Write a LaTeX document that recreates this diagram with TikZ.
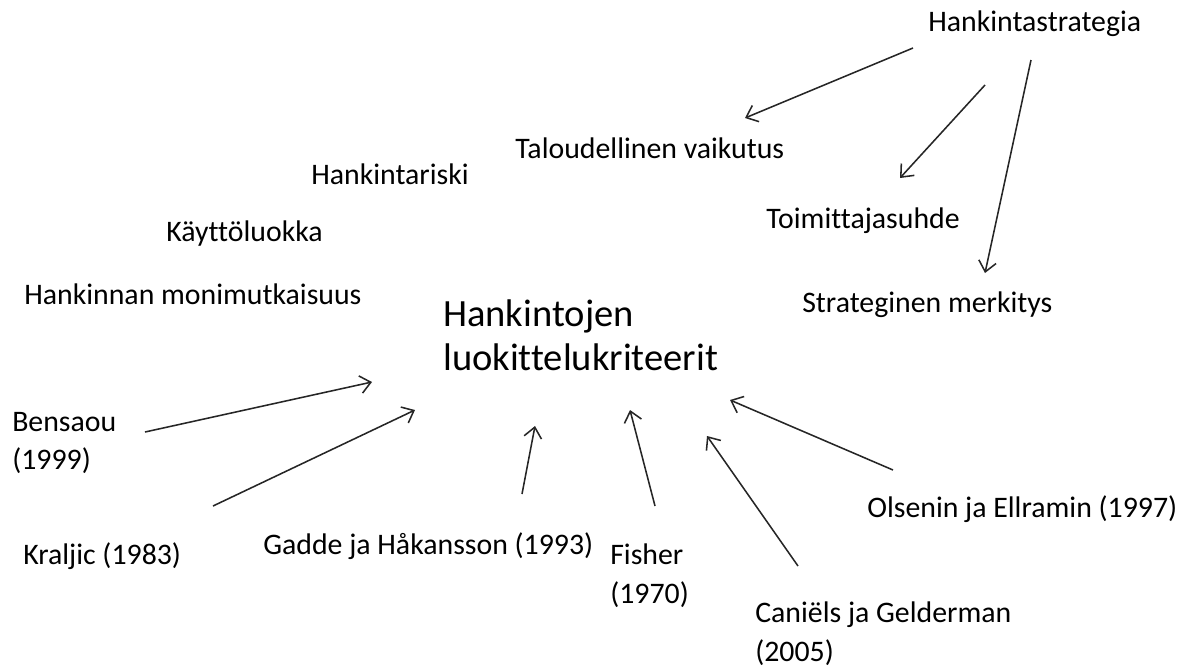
\documentclass[tikz,border=0pt]{standalone}
\usepackage{fontspec}
\setmainfont[Ligatures=NoCommon]{Carlito}
\usetikzlibrary{positioning, arrows.meta}
\definecolor{hkink}{gray}{0.15}
\tikzset{
  hklbl/.style   = {inner sep=0pt, anchor=west, align=left, text=black,
                    font=\fontsize{21.2}{27.7}\selectfont},
  hktitle/.style = {hklbl, font=\fontsize{27.4}{31.3}\selectfont},
  hkarrow/.style = {draw=hkink, line width=1.1pt,
                    -{Straight Barb[length=2.6mm,width=4.4mm]}}
}

\begin{document}
\begin{tikzpicture}[x=0.025cm, y=-0.025cm]
  \useasboundingbox (0,0) rectangle (1196,667);

  % criteria
  \node[hktitle] (crit) at (443,335) {Hankintojen\\luokittelukriteerit};
  \node[hklbl] (strat) at (928,24)  {Hankintastrategia};
  \node[hklbl] (talo)  at (515,148) {Taloudellinen vaikutus};
  \node[hklbl] (riski) at (311,174) {Hankintariski};
  \node[hklbl] (kaytto) at (166,234) {Käyttöluokka};
  \node[hklbl] (moni)  at (24,294)  {Hankinnan monimutkaisuus};
  \node[hklbl] (toim)  at (766,221) {Toimittajasuhde};
  \node[hklbl] (merk)  at (802,305) {Strateginen merkitys};

  % sources
  \node[hklbl] (bens)  at (12,443)  {Bensaou\\(1999)};
  \node[hklbl] (kral)  at (23,556)  {Kraljic (1983)};
  \node[hklbl] (gadde) at (263,546) {Gadde ja Håkansson (1993)};
  \node[hklbl] (fish)  at (610,576) {Fisher\\(1970)};
  \node[hklbl] (olsen) at (867,509) {Olsenin ja Ellramin (1997)};
  \node[hklbl] (cani)  at (755,634) {Caniëls ja Gelderman\\(2005)};

  % arrow ends
  \coordinate (s1) at (913,48);   \coordinate (e1) at (745,118);
  \coordinate (s2) at (985,85);   \coordinate (e2) at (900,178);
  \coordinate (s3) at (1031,60);  \coordinate (e3) at (985,273);
  \coordinate (b1) at (145,432);  \coordinate (c1) at (372,382);
  \coordinate (b2) at (213,506);  \coordinate (c2) at (415,410);
  \coordinate (b3) at (522,494);  \coordinate (c3) at (535,426);
  \coordinate (b4) at (655,506);  \coordinate (c4) at (630,410);
  \coordinate (b5) at (798,566);  \coordinate (c5) at (707,436);
  \coordinate (b6) at (893,470);  \coordinate (c6) at (730,400);

  \draw[hkarrow] (s1) -- (e1);
  \draw[hkarrow] (s2) -- (e2);
  \draw[hkarrow] (s3) -- (e3);
  \draw[hkarrow] (b1) -- (c1);
  \draw[hkarrow] (b2) -- (c2);
  \draw[hkarrow] (b3) -- (c3);
  \draw[hkarrow] (b4) -- (c4);
  \draw[hkarrow] (b5) -- (c5);
  \draw[hkarrow] (b6) -- (c6);
\end{tikzpicture}
\end{document}
